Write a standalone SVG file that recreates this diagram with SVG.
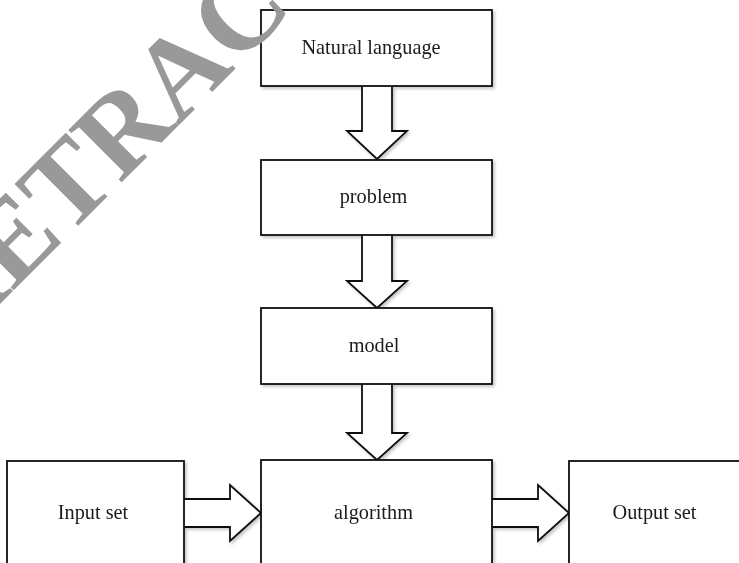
<svg xmlns="http://www.w3.org/2000/svg" width="739" height="563" viewBox="0 0 739 563">
  <defs>
    <filter id="sh" x="-10%" y="-10%" width="130%" height="130%">
      <feDropShadow dx="2" dy="2" stdDeviation="1.8" flood-color="#000" flood-opacity="0.22"/>
    </filter>
    <style>
      .box { fill: #ffffff; stroke: #111111; stroke-width: 1.8; }
      .arr { fill: #ffffff; stroke: #111111; stroke-width: 1.8; stroke-linejoin: miter; }
      .lbl { font-family: "Liberation Serif", "Times New Roman", serif; font-size: 20.3px; fill: #1a1a1a; text-anchor: middle; }
      .wm { font-family: "Liberation Serif", "Times New Roman", serif; font-size: 114px; font-weight: bold; fill: #999999; }
    </style>
  </defs>
  <rect x="0" y="0" width="739" height="563" fill="#ffffff"/>
  <g filter="url(#sh)">
    <g id="connectors">
      <path class="arr" d="M362,86 V131 H347 L377,159 L407,131 H392 V86"/>
      <path class="arr" d="M362,235 V281 H347 L377,308 L407,281 H392 V235"/>
      <path class="arr" d="M362,384 V433 H347 L377,460 L407,433 H392 V384"/>
      <path class="arr" d="M184,499 H230 V485 L261,513 L230,541 V527 H184"/>
      <path class="arr" d="M492,499 H538 V485 L569,513 L538,541 V527 H492"/>
    </g>
    <g id="natural-language">
      <rect class="box" x="261" y="10" width="231" height="76"/>
      <text class="lbl" x="371" y="54">Natural language</text>
    </g>
    <g id="problem">
      <rect class="box" x="261" y="160" width="231" height="75"/>
      <text class="lbl" x="373.5" y="203">problem</text>
    </g>
    <g id="model">
      <rect class="box" x="261" y="308" width="231" height="76"/>
      <text class="lbl" x="374" y="352">model</text>
    </g>
    <g id="algorithm">
      <rect class="box" x="261" y="460" width="231" height="130"/>
      <text class="lbl" x="373.5" y="519">algorithm</text>
    </g>
    <g id="input-set">
      <rect class="box" x="7" y="461" width="177" height="130"/>
      <text class="lbl" x="93" y="519">Input set</text>
    </g>
    <g id="output-set">
      <rect class="box" x="569" y="461" width="200" height="130"/>
      <text class="lbl" x="654.5" y="519">Output set</text>
    </g>
  </g>
  <text class="wm" transform="translate(-46,350) rotate(-45)">RETRACTED</text>
</svg>
